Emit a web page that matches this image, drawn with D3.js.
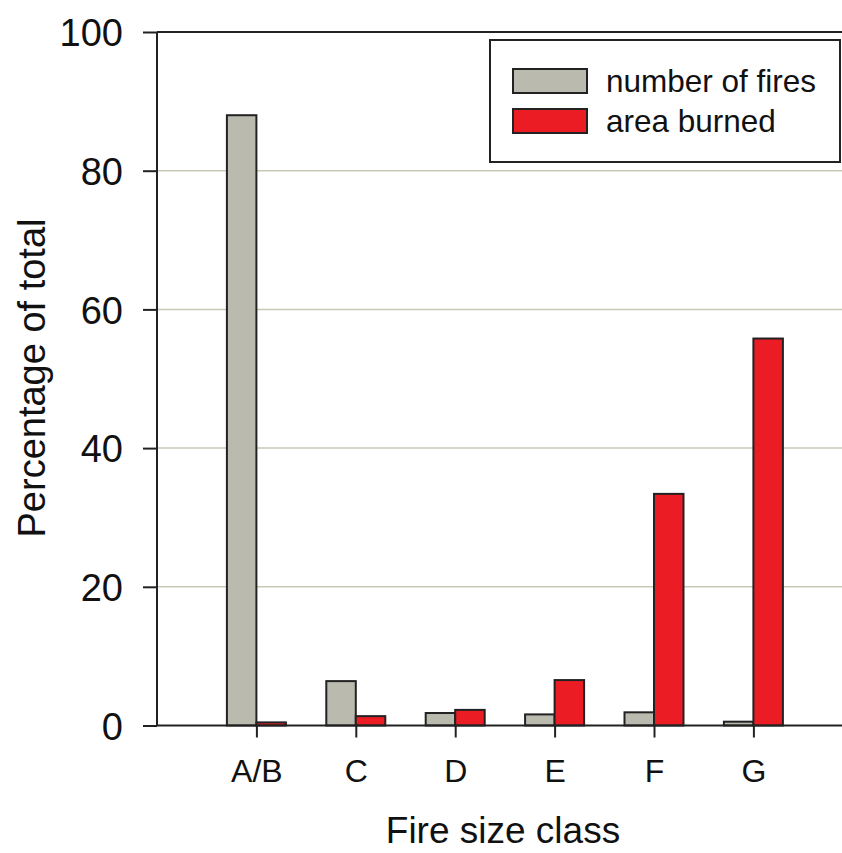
<!DOCTYPE html>
<html><head><meta charset="utf-8">
<script src="https://cdn.jsdelivr.net/npm/d3@7"></script>
<style>body{margin:0;background:#fff}svg{display:block}text{font-family:"Liberation Sans",Arial,sans-serif;fill:#111}</style>
</head><body>
<script>
const categories = ["A/B","C","D","E","F","G"];
const numberOfFires = [88.0, 6.4, 1.8, 1.6, 1.9, 0.55];
const areaBurned = [0.45, 1.35, 2.25, 6.55, 33.4, 55.8];
const yTicks = [0,20,40,60,80,100];
const seriesNames = ["number of fires","area burned"];
const seriesColors = ["#babaae","#ec1c24"];

(function(){
const W = 842, H = 853;
const svg = d3.select("body").append("svg").attr("width", W).attr("height", H);
const pLeft = 157, pTop = 32, pBottom = 725.5;
const step = 99.4;
const y = d3.scaleLinear().domain([0,100]).range([pBottom, pTop]);
const x = d3.scalePoint().domain(categories).range([pLeft + step, pLeft + 6*step]);
const bw = 29.5;

// gridlines
svg.append("g").selectAll("line").data(yTicks.filter(t => t>0 && t<100)).join("line")
  .attr("x1", pLeft).attr("x2", W).attr("y1", d=>y(d)).attr("y2", d=>y(d))
  .attr("stroke", "#c9c9b8").attr("stroke-width", 1.5);
// top line
svg.append("line").attr("x1", pLeft).attr("x2", W).attr("y1", y(100)).attr("y2", y(100))
  .attr("stroke","#222").attr("stroke-width",2);

// bars
const g = svg.append("g");
g.selectAll("rect.f").data(categories).join("rect").attr("class","f")
  .attr("x", d => x(d) - bw).attr("width", bw)
  .attr("y", (d,i) => y(numberOfFires[i])).attr("height", (d,i) => y(0) - y(numberOfFires[i]))
  .attr("fill", seriesColors[0]).attr("stroke","#222").attr("stroke-width",2);
g.selectAll("rect.a").data(categories).join("rect").attr("class","a")
  .attr("x", d => x(d)).attr("width", bw)
  .attr("y", (d,i) => y(areaBurned[i])).attr("height", (d,i) => y(0) - y(areaBurned[i]))
  .attr("fill", seriesColors[1]).attr("stroke","#222").attr("stroke-width",2);

// y axis
const ya = svg.append("g").attr("transform", `translate(${pLeft},0)`)
  .call(d3.axisLeft(y).tickValues(yTicks).tickSize(14).tickPadding(20));
ya.select(".domain").attr("stroke","#222").attr("stroke-width",2).attr("d", `M0,${pTop}V${pBottom}`);
ya.selectAll(".tick line").attr("stroke","#222").attr("stroke-width",2);
ya.selectAll(".tick text").style("font-size","38px").attr("dy","0.36em").attr("fill","#111");

// x axis
const xa = svg.append("g").attr("transform", `translate(0,${pBottom})`)
  .call(d3.axisBottom(x).tickSize(12).tickPadding(22));
xa.select(".domain").attr("stroke","#222").attr("stroke-width",2).attr("d", `M${pLeft},0H${W}`);
xa.selectAll(".tick line").attr("stroke","#222").attr("stroke-width",2);
xa.selectAll(".tick text").style("font-size","32px").attr("fill","#111");

// titles
svg.append("text").attr("x", 503).attr("y", 843).attr("text-anchor","middle")
  .style("font-size","37px").text("Fire size class");
svg.append("text").attr("transform","translate(45,378) rotate(-90)").attr("text-anchor","middle")
  .style("font-size","38px").text("Percentage of total");

// legend
const lg = svg.append("g");
lg.append("rect").attr("x",490).attr("y",40).attr("width",350).attr("height",122)
  .attr("fill","#fff").attr("stroke","#222").attr("stroke-width",2);
seriesNames.forEach((n,i) => {
  lg.append("rect").attr("x",513).attr("y",69 + i*40).attr("width",74).attr("height",24)
    .attr("fill", seriesColors[i]).attr("stroke","#222").attr("stroke-width",2);
  lg.append("text").attr("x",606).attr("y",92 + i*40).style("font-size","31.5px").text(n);
});
})();
</script>
</body></html>
